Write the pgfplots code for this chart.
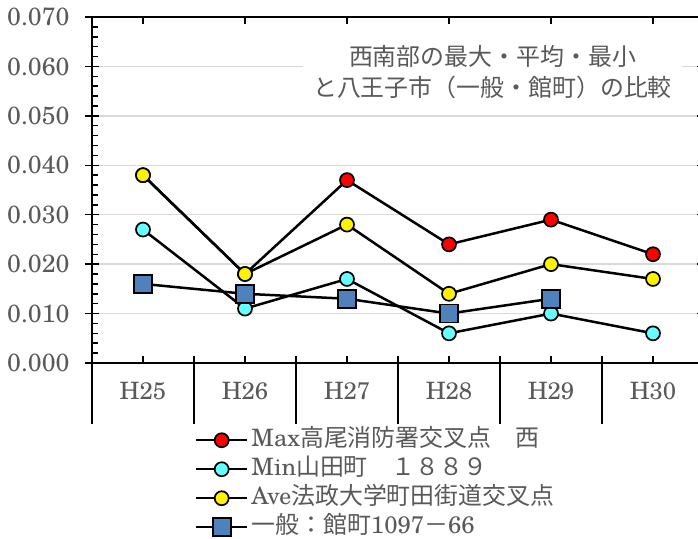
\documentclass[border=0pt]{standalone}
\usepackage{pgfplots}
\pgfplotsset{compat=1.18}
\usepackage{fontspec}
\setmainfont{TeX Gyre Schola}
\newfontfamily\cjk{Noto Sans CJK JP}
\definecolor{txt}{RGB}{89,89,89}
\definecolor{gridc}{RGB}{217,217,217}
\definecolor{mcyan}{RGB}{102,255,255}
\definecolor{mblue}{RGB}{79,129,189}

\begin{document}
\begin{tikzpicture}[x=1bp,y=1bp]
  \begin{axis}[
    at={(92bp,176bp)}, anchor=south west,
    scale only axis, width=612bp, height=346bp,
    xmin=-0.5, xmax=5.5, ymin=0, ymax=0.07,
    xtick={0,1,2,3,4,5},
    xticklabels={H25,H26,H27,H28,H29,H30},
    ytick={0,0.01,0.02,0.03,0.04,0.05,0.06,0.07},
    scaled y ticks=false,
    minor y tick num=4,
    ymajorgrids,
    major grid style={gridc, line width=1.5bp},
    axis line style={black, line width=2bp},
    x tick style={black, line width=1.5bp, /pgfplots/major tick length=7bp},
    y tick style={black, line width=1.5bp},
    minor y tick style={xshift=3bp},
    major tick length=14bp,
    minor tick length=6bp,
    ytick align=center,
    xtick align=inside,
    /pgf/number format/assume math mode=true,
    /pgf/number format/fixed,
    /pgf/number format/fixed zerofill,
    /pgf/number format/precision=3,
    yticklabel style={font=\fontsize{25}{27}\selectfont, text=txt, xshift=-12bp},
    xticklabel style={font=\fontsize{24}{26}\selectfont, text=txt, yshift=-16bp},
    legend style={draw=none, fill=none, at={(axis description cs:0.163,-0.175)},
      anchor=north west, font=\fontsize{24}{26}\selectfont\color{txt},
      row sep=0bp, nodes={inner sep=3bp, text height=18bp, text depth=5bp}},
    legend cell align=left,
    legend image code/.code={\draw[mark repeat=2,mark phase=2,#1]
      plot coordinates {(0bp,0bp) (25.5bp,0bp) (51bp,0bp)};},
    clip=false,
  ]
    \addplot[black, line width=2.5bp, mark=*, mark size=7bp,
      mark options={fill=red, draw=black, line width=1.7bp}]
      coordinates {(0,0.038) (1,0.018) (2,0.037) (3,0.024) (4,0.029) (5,0.022)};
    \addlegendentry{Max{\cjk 高尾消防署交叉点　西}}
    \addplot[black, line width=2.5bp, mark=*, mark size=7bp,
      mark options={fill=mcyan, draw=black, line width=1.7bp}]
      coordinates {(0,0.027) (1,0.011) (2,0.017) (3,0.006) (4,0.010) (5,0.006)};
    \addlegendentry{Min{\cjk 山田町　１８８９}}
    \addplot[black, line width=2.5bp, mark=*, mark size=7bp,
      mark options={fill=yellow, draw=black, line width=1.7bp}]
      coordinates {(0,0.038) (1,0.018) (2,0.028) (3,0.014) (4,0.020) (5,0.017)};
    \addlegendentry{Ave{\cjk 法政大学町田街道交叉点}}
    \addplot[black, line width=2.5bp, mark=square*, mark size=9bp,
      mark options={fill=mblue, draw=black, line width=1.7bp}]
      coordinates {(0,0.016) (1,0.014) (2,0.013) (3,0.010) (4,0.013)};
    \addlegendentry{{\cjk 一般：館町}1097{\cjk －}66}
  \end{axis}
  % category separators below the axis
  \foreach \k in {0,...,6}
    \draw[line width=2bp] (92+102*\k,183) -- (92+102*\k,115);
  % title box
  \node[fill=white, align=center, font=\cjk\fontsize{24}{31}\selectfont,
    text=txt, minimum width=379bp, inner sep=2bp] at (492.5,466.5)
    {西南部の最大・平均・最小\\と八王子市（一般・館町）の比較};
  \pgfresetboundingbox
  \useasboundingbox (0,0) rectangle (698,539);
\end{tikzpicture}
\end{document}
